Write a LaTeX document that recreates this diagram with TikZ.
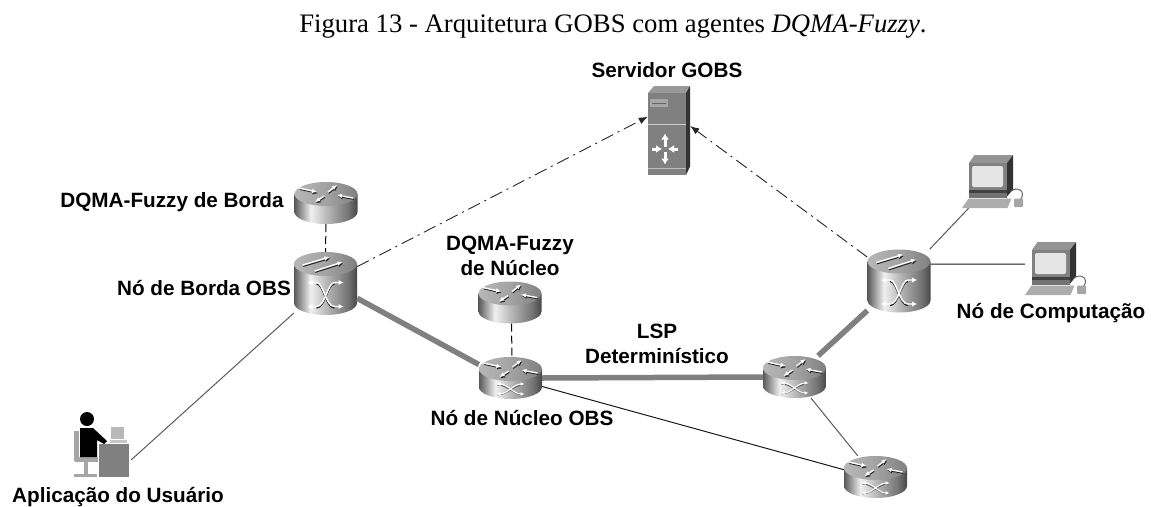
\documentclass[tikz,border=0pt]{standalone}
\usepackage{fontspec}
\setmainfont{Liberation Sans}
\newfontfamily\capfont{Liberation Serif}
\usetikzlibrary{arrows,arrows.meta}

\pgfdeclarehorizontalshading{routerside}{100bp}{color(0bp)=(black!65); color(25bp)=(black!65); color(38bp)=(black!6); color(52bp)=(black!30); color(68bp)=(black!55); color(75bp)=(black!72); color(100bp)=(black!72)}
\pgfdeclarehorizontalshading{routertop}{100bp}{color(0bp)=(black!28); color(25bp)=(black!28); color(50bp)=(black!36); color(75bp)=(black!50); color(100bp)=(black!50)}

\tikzset{
  lbl/.style={font=\bfseries\fontsize{20.7}{25}\selectfont,align=center,inner sep=0pt},
  routerflat/.style={minimum width=63pt,minimum height=42pt,inner sep=0pt},
  routertall/.style={minimum width=63pt,minimum height=63pt,inner sep=0pt},
  pcbox/.style={minimum width=63pt,minimum height=53pt,inner sep=0pt},
  thick gray/.style={draw=black!50,line width=5.5pt},
  thin gray/.style={draw=black!65,line width=1pt},
  thin black/.style={draw=black!90,line width=1pt},
  dashdot/.style={draw=black!85,line width=0.9pt,dash pattern=on 13pt off 5pt on 2pt off 5pt},
  vdash/.style={draw=black,line width=1pt,dash pattern=on 8pt off 4pt},
  glyph/.style={draw=white,line width=1.3pt,-{Latex[length=5pt,width=4.5pt]}},
  glyphdark/.style={draw=black!85,line width=1pt,-{Latex[length=5pt,width=4.5pt]}},
  cylinder body/.pic={
    \shade[shading=routerside] (-31.5,-#1) -- (-31.5,#1) arc (180:0:31.5 and 12) -- (31.5,-#1) -- cycle;
    \shade[shading=routertop] (0,-#1) ellipse (31.5 and 12);
  },
  router arrows/.pic={
    \foreach \ax/\ay/\bx/\by in {-27/-6/-9/-2,2/-2/11/-9,-2/2/-11/8,27/4/11/1}{
      \draw[glyphdark] (\ax+0.8,\ay+1.4) -- (\bx+0.8,\by+1.4);
      \draw[glyph] (\ax,\ay) -- (\bx,\by);
    }
  },
  flat router/.pic={
    \pic {cylinder body=9};
    \pic at (0,-9) {router arrows};
  },
  core router/.pic={
    \pic {cylinder body=9};
    \pic at (0,-9) {router arrows};
    \draw[black!60,line width=1pt] (-13,7) .. controls (-3,7) and (3,17) .. (13,17);
    \draw[black!60,line width=1pt] (-13,17) .. controls (-3,17) and (3,7) .. (13,7);
    \draw[white,line width=1pt,{Latex[length=4pt,width=4pt]}-{Latex[length=4pt,width=4pt]}] (-14,6) .. controls (-3,6) and (3,16) .. (14,16);
    \draw[white,line width=1pt,{Latex[length=4pt,width=4pt]}-{Latex[length=4pt,width=4pt]}] (-14,16) .. controls (-3,16) and (3,6) .. (14,6);
  },
  tall router/.pic={
    \pic {cylinder body=19.5};
    \foreach \ax/\ay/\bx/\by in {-23/1/4/-7,-11/7/17/-2}{
      \draw[glyphdark] (\ax+0.8,\ay-18.1) -- (\bx+0.8,\by-18.1);
      \draw[glyph] (\ax,\ay-19.5) -- (\bx,\by-19.5);
    }
    \draw[black!85,line width=1.3pt] (-9,0.5) .. controls (-2,0.5) and (0,24.5) .. (9,24.5);
    \draw[black!85,line width=1.3pt] (-9,24.5) .. controls (0,24.5) and (2,0.5) .. (9,0.5);
    \draw[white,line width=1.4pt,{Latex[length=5pt,width=5.5pt]}-{Latex[length=5pt,width=5.5pt]}] (-18,-1) -- (-9,-1) .. controls (-2,-1) and (0,23) .. (9,23) -- (18,23);
    \draw[white,line width=1.4pt,{Latex[length=5pt,width=5.5pt]}-{Latex[length=5pt,width=5.5pt]}] (-18,23) -- (-9,23) .. controls (0,23) and (2,-1) .. (9,-1) -- (18,-1);
  },
  computer/.pic={
    \fill[black!42] (-24.5,-18.5) -- (-19,-26.5) -- (19.5,-26.5) -- (13.5,-18.5) -- cycle;
    \fill[black!80] (13.5,-18.5) -- (19.5,-26.5) -- (19.5,8) -- (13.5,15) -- cycle;
    \fill[black!50] (-24.5,-18.5) rectangle (13.5,10);
    \fill[black!10,rounded corners=2pt] (-21.5,-15.5) rectangle (9.5,5.5);
    \fill[black!75] (-24.5,8.5) rectangle (13.5,11);
    \fill[black!55] (-24.5,11) rectangle (13.5,16.5);
    \fill[black!32] (-25,17) -- (18,17) -- (14,26.5) -- (-31.5,26.5) -- cycle;
    \draw[black!60,line width=1pt] (17,10) .. controls (24,4) and (33,10) .. (27,18);
    \fill[black!35,rounded corners=1pt] (20.5,17) rectangle (29.5,25.5);
  },
  server/.pic={
    \fill[black!40] (-21,-37.5) -- (-15,-44.5) -- (21,-44.5) -- (17,-37.5) -- cycle;
    \fill[black!80] (17,-37.5) -- (21,-44.5) -- (21,36) -- (17,44.5) -- cycle;
    \fill[black!50] (-21,-37.5) rectangle (17,44.5);
    \fill[black!35] (-19,-31.5) rectangle (-1,-23.5);
    \draw[black!60,line width=1pt] (-17,-27.5) -- (-3,-27.5);
    \draw[black!20,line width=0.9pt] (-21,-6.5) -- (17,-6.5);
    \draw[black!25,line width=0.9pt] (-21,37.5) -- (17,37.5);
    \foreach \sx/\sy/\ex/\ey in {-4/16/-4/3,-4/21/-4/34,-17/18.5/-7/18.5,9/18.5/-1/18.5}{
      \draw[white,line width=3pt,-{Latex[length=6pt,width=8pt]}] (\sx,\sy) -- (\ex,\ey);
    }
  }
}

\begin{document}
\begin{tikzpicture}[x=1pt,y=-1pt]
  \useasboundingbox (0,0) rectangle (1151,506);
  % caption
  \node[inner sep=0pt,anchor=base,font=\capfont\fontsize{26.7}{32}\selectfont] (caption) at (613,32) {Figura 13 - Arquitetura GOBS com agentes \textit{DQMA-Fuzzy}.};
  % devices
  \foreach \nm/\x/\y in {dqmaBorda/326/203,dqmaNucleo/510/302.5}
    {\node[routerflat] (\nm) at (\x,\y) {}; \pic at (\nm) {flat router};}
  \foreach \nm/\x/\y in {coreA/510.5/378,coreB/794.5/377,coreC/875.5/477}
    {\node[routerflat] (\nm) at (\x,\y) {}; \pic at (\nm) {core router};}
  \foreach \nm/\x/\y in {bordaA/325.5/283.5,bordaB/899/281}
    {\node[routertall] (\nm) at (\x,\y) {}; \pic at (\nm) {tall router};}
  \foreach \nm/\x/\y in {pcA/993.5/181.5,pcB/1056.5/268.5}
    {\node[pcbox] (\nm) at (\x,\y) {}; \pic at (\nm) {computer};}
  \node[minimum width=42pt,minimum height=89pt,inner sep=0pt] (servidor) at (669,130.5) {};
  \pic at (servidor) {server};
  \node[minimum width=58pt,minimum height=66pt,inner sep=0pt] (usuario) at (102,445) {};
  % user
  \fill[black!35] (74,431) rectangle (79,461);
  \fill[black!35] (75,457) rectangle (98,462);
  \fill[black!35] (84,462) rectangle (88,474);
  \fill[black!35] (74,473.5) rectangle (97,476.5);
  \fill[black] (87,419) circle (7);
  \fill[black] (80,428) -- (93,428) -- (107,441) -- (104,444) -- (97,440) -- (97,457) -- (80,457) -- cycle;
  \fill[black!50] (99,444) rectangle (129,477);
  \fill[black!28] (111,427) rectangle (124,439);
  \fill[black!22] (110,440) rectangle (127,443);
  % links
  \draw[thick gray] (bordaA.-25) -- (coreA.157);
  \draw[thick gray] (coreA.east) -- (coreB.west);
  \draw[thick gray] (coreB.42) -- (bordaB.223);
  \draw[thin gray] (usuario.-27) -- (bordaA.223);
  \draw[thin black] (coreA.-15) -- (coreC.167);
  \draw[thin gray] (coreB.-52) -- (coreC.130);
  \draw[thin gray] (bordaB.46) -- (pcA.227);
  \draw[thin black] (bordaB.28) -- (pcB.172);
  \draw[vdash] (dqmaBorda.south) -- (bordaA.north);
  \draw[vdash] (dqmaNucleo.-86) -- (coreA.86);
  \draw[dashdot,-{Latex[length=9pt,width=7pt]}] (bordaA.28) -- (servidor.147);
  \draw[dashdot,-{Latex[length=9pt,width=7pt]}] (bordaB.143) -- (servidor.12);
  % labels
  \node[lbl] (lblServidor) at (667,70) {Servidor GOBS};
  \node[lbl] (lblDqmaB) at (172,202) {DQMA-Fuzzy de Borda};
  \node[lbl] (lblBorda) at (204,288) {Nó de Borda OBS};
  \node[lbl] (lblDqmaN) at (510,255.5) {DQMA-Fuzzy\\de Núcleo};
  \node[lbl] (lblLsp) at (657,343.5) {LSP\\Determinístico};
  \node[lbl] (lblNucleo) at (522,418) {Nó de Núcleo OBS};
  \node[lbl] (lblComp) at (1051,313) {Nó de Computação};
  \node[lbl] (lblUsuario) at (118,497) {Aplicação do Usuário};
\end{tikzpicture}
\end{document}
